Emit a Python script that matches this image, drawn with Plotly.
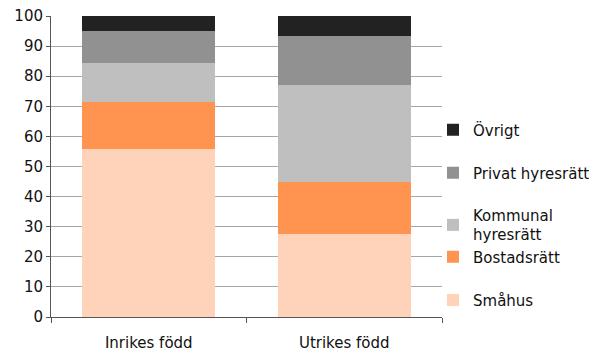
import plotly.graph_objects as go

categories = ["Inrikes född", "Utrikes född"]
series_names = ["Småhus", "Bostadsrätt", "Kommunal<br>hyresrätt", "Privat hyresrätt", "Övrigt"]
smahus = [55.8, 27.6]
bostadsratt = [15.6, 17.3]
kommunal = [12.9, 32.1]
privat = [10.6, 16.3]
ovrigt = [5.1, 6.7]
y_ticks = [0, 10, 20, 30, 40, 50, 60, 70, 80, 90, 100]

colors = ["#FFD3B9", "#FF9450", "#BFBFBF", "#919191", "#222222"]
values = [smahus, bostadsratt, kommunal, privat, ovrigt]
# legend y positions (paper coords), one legend box per entry
legend_y = [0.056, 0.199, 0.306, 0.478, 0.621]

font = dict(family="DejaVu Sans", size=15, color="#111111")

fig = go.Figure()
for i, (name, vals, col) in enumerate(zip(series_names, values, colors)):
    lg = "legend" if i == 0 else f"legend{i + 1}"
    fig.add_trace(go.Bar(
        name=name, x=categories, y=vals,
        marker=dict(color=col, line=dict(width=0)),
        legend=lg,
    ))

legends = {}
for i, ly in enumerate(legend_y):
    key = "legend" if i == 0 else f"legend{i + 1}"
    legends[key] = dict(
        x=0.977, y=ly, xanchor="left", yanchor="middle",
        font=font, bgcolor="rgba(0,0,0,0)", itemwidth=30,
        borderwidth=0, tracegroupgap=0,
    )

fig.update_layout(
    width=589, height=354,
    margin=dict(l=51, r=147, t=16, b=37, autoexpand=False),
    barmode="stack", bargap=0.32,
    plot_bgcolor="white", paper_bgcolor="white",
    font=font,
    showlegend=True,
    **legends,
)
fig.update_xaxes(
    showline=True, linecolor="#555555", linewidth=1,
    ticks="outside", tickson="boundaries", ticklen=5, tickcolor="#555555",
    showgrid=False, tickfont=font, ticklabelstandoff=12,
)
fig.update_yaxes(
    range=[0, 100], tickvals=y_ticks,
    showline=True, linecolor="#555555", linewidth=1,
    ticks="outside", ticklen=4, tickcolor="#555555",
    showgrid=True, gridcolor="#A6A6A6", gridwidth=1,
    zeroline=False, tickfont=font,
)

# drop the default 8px page margin so the figure fills the window
fig.write_html(
    "out.html",
    config={"displayModeBar": False},
    post_script="document.body.style.margin='0';",
)
